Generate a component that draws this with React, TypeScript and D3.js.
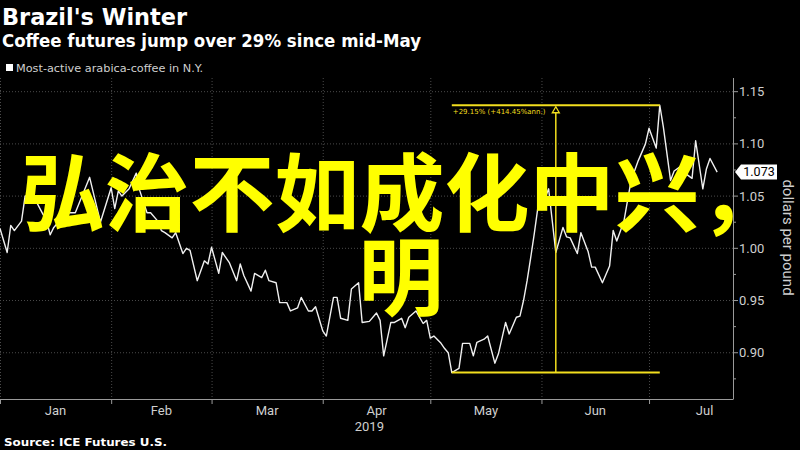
import * as d3 from "d3";

// Most-active arabica coffee, ICE (dollars per pound)
const dates = [
  "01-01", "01-03", "01-04", "01-05", "01-07", "01-08", "01-10", "01-12", "01-14", "01-15",
  "01-16", "01-18", "01-20", "01-22", "01-26", "01-29", "02-01", "02-02", "02-03", "02-04",
  "02-06", "02-08", "02-09", "02-11", "02-12", "02-14", "02-15", "02-16", "02-18", "02-19",
  "02-21", "02-22", "02-23", "02-25", "02-27", "02-28", "03-01", "03-03", "03-04", "03-06",
  "03-08", "03-09", "03-10", "03-12", "03-13", "03-15", "03-16", "03-17", "03-19", "03-20",
  "03-22", "03-23", "03-25", "03-26", "03-28", "03-29", "03-30", "04-01", "04-02", "04-04",
  "04-05", "04-06", "04-08", "04-09", "04-11", "04-12", "04-14", "04-16", "04-17", "04-18",
  "04-20", "04-21", "04-23", "04-24", "04-25", "04-27", "04-29", "04-30", "05-01", "05-02",
  "05-04", "05-05", "05-06", "05-07", "05-09", "05-10", "05-12", "05-13", "05-14", "05-16",
  "05-17", "05-19", "05-20", "05-22", "05-23", "05-25", "05-26", "05-27", "05-28", "05-29",
  "05-30", "05-31", "06-02", "06-03", "06-05", "06-07", "06-08", "06-09", "06-11", "06-12",
  "06-14", "06-15", "06-16", "06-18", "06-20", "06-21", "06-22", "06-24", "06-26", "06-28",
  "06-30", "07-01", "07-03", "07-04", "07-05", "07-07", "07-08", "07-10", "07-11", "07-13",
  "07-14", "07-16", "07-17", "07-18", "07-20",
];
const values = [
  1.019, 0.996, 1.022, 1.017, 1.026, 1.05, 1.052, 1.039, 1.026, 1.013,
  1.02, 1.028, 1.034, 1.034, 1.068, 1.025, 1.058, 1.038, 1.055, 1.05,
  1.057, 1.072, 1.055, 1.034, 1.034, 1.026, 1.017, 1.015, 1.01, 1.015,
  0.995, 1.0, 0.998, 0.969, 0.988, 0.985, 1.001, 0.976, 0.996, 0.986,
  0.969, 0.985, 0.974, 0.959, 0.976, 0.972, 0.979, 0.969, 0.967, 0.948,
  0.948, 0.94, 0.943, 0.953, 0.94, 0.94, 0.944, 0.921, 0.916, 0.953,
  0.953, 0.933, 0.931, 0.961, 0.967, 0.929, 0.93, 0.938, 0.931, 0.897,
  0.929, 0.929, 0.933, 0.924, 0.934, 0.94, 0.928, 0.931, 0.914, 0.916,
  0.909, 0.904, 0.9, 0.881, 0.885, 0.909, 0.909, 0.897, 0.91, 0.913,
  0.916, 0.89, 0.899, 0.929, 0.918, 0.934, 0.935, 0.95, 0.969, 0.991,
  1.014, 1.039, 1.048, 1.057, 0.996, 1.02, 1.011, 1.01, 0.995, 1.015,
  0.997, 0.982, 0.982, 0.967, 0.983, 1.017, 1.007, 1.026, 1.065, 1.084,
  1.1, 1.115, 1.096, 1.137, 1.116, 1.065, 1.074, 1.079, 1.072, 1.067,
  1.103, 1.057, 1.076, 1.086, 1.073,
];

const yTicks = [0.9, 0.95, 1.0, 1.05, 1.1, 1.15];
const yMinor = [0.875, 0.925, 0.975, 1.025, 1.075, 1.125];
const monthLabels = ["Jan", "Feb", "Mar", "Apr", "May", "Jun", "Jul"];
const yearLabel = "2019";
const lastLabel = "1.073";
const changeLabel = "+29.15% (+414.45%ann.)";
const overlayLine1 = "弘治不如成化中兴，";
const overlayLine2 = "明";

const W = 800;
const H = 450;
const plot = { left: 0, right: 733, top: 78, bottom: 399 };
const grid = "#4a4a4a";
const axisCol = "#9a9a9a";
const textCol = "#cfcfcf";
const annot = "#f2de1e";

export default function App() {
  const parse = d3.timeParse("%Y-%m-%d");
  const data = dates.map((d, i) => ({ date: parse("2019-" + d)!, value: values[i] }));

  const x = d3
    .scaleTime()
    .domain([new Date(2019, 0, 1), new Date(2019, 6, 24, 10)])
    .range([plot.left, plot.right]);
  const y = d3.scaleLinear().domain([0.8557, 1.1631]).range([plot.bottom, plot.top]);

  const line = d3
    .line<{ date: Date; value: number }>()
    .x((d) => x(d.date))
    .y((d) => y(d.value));

  const monthStarts = d3.timeMonth.range(new Date(2019, 0, 1), new Date(2019, 7, 1));

  // low / high of the May rally
  const lowIdx = d3.minIndex(data, (d) => d.value);
  const highIdx = lowIdx + d3.maxIndex(data.slice(lowIdx), (d) => d.value);
  const lo = data[lowIdx];
  const hi = data[highIdx];
  const x0 = x(lo.date);
  const x1 = x(hi.date);
  const xm = (x0 + x1) / 2;
  const last = data[data.length - 1];
  const yl = y(last.value);

  return (
    <svg width={W} height={H} style={{ position: "absolute", left: 0, top: 0, background: "#000" }}>
      <style>{`body{margin:0;background:#000}`}</style>
      <rect width={W} height={H} fill="#000" />

      {/* titles */}
      <text x={2} y={25} fill="#fff" fontFamily="DejaVu Sans" fontWeight="bold" fontSize={23}
        textLength={185} lengthAdjust="spacingAndGlyphs">Brazil's Winter</text>
      <text x={2} y={47} fill="#fff" fontFamily="DejaVu Sans" fontWeight="bold" fontSize={17.5}
        textLength={419} lengthAdjust="spacingAndGlyphs">Coffee futures jump over 29% since mid-May</text>
      <rect x={6} y={64} width={7} height={7} fill="#fff" />
      <text x={16} y={72} fill={textCol} fontFamily="DejaVu Sans" fontSize={11}
        textLength={187} lengthAdjust="spacingAndGlyphs">Most-active arabica-coffee in N.Y.</text>

      {/* grid */}
      {yTicks.map((t) => (
        <line key={"h" + t} x1={plot.left} x2={plot.right} y1={y(t)} y2={y(t)}
          stroke={grid} strokeDasharray="1,2" />
      ))}
      {monthStarts.map((m) => (
        <line key={"v" + m.getTime()} x1={x(m) + 0.5} x2={x(m) + 0.5} y1={plot.top} y2={plot.bottom}
          stroke={grid} strokeDasharray="1,2" />
      ))}

      {/* price line */}
      <path d={line(data) ?? ""} fill="none" stroke="#f0f0f0" strokeWidth={1.4} strokeLinejoin="round" />

      {/* rally annotation */}
      <g stroke={annot} strokeWidth={2} fill="none">
        <line x1={x0} x2={x1} y1={y(hi.value)} y2={y(hi.value)} />
        <line x1={x0} x2={x1} y1={y(lo.value)} y2={y(lo.value)} />
        <line x1={xm} x2={xm} y1={y(lo.value)} y2={y(hi.value) + 7} strokeWidth={1.5} />
        <path d={`M${xm},${y(hi.value) + 1.5}L${xm - 3.5},${y(hi.value) + 7.5}L${xm + 3.5},${y(hi.value) + 7.5}Z`}
          fill="#000" strokeWidth={1.3} />
      </g>
      <text x={x0 + 1} y={y(hi.value) + 9} fill={annot} fontFamily="DejaVu Sans" fontSize={7}>
        {changeLabel}
      </text>

      {/* axes */}
      <line x1={plot.right + 0.5} x2={plot.right + 0.5} y1={plot.top} y2={plot.bottom} stroke={axisCol} />
      <line x1={plot.left} x2={plot.right + 0.5} y1={plot.bottom + 0.5} y2={plot.bottom + 0.5} stroke={axisCol} />
      {yTicks.map((t) => (
        <g key={"yt" + t}>
          <line x1={plot.right} x2={plot.right + 5} y1={y(t)} y2={y(t)} stroke={axisCol} />
          <text x={plot.right + 6} y={y(t) + 4.5} fill={textCol} fontFamily="Roboto" fontSize={13}>
            {d3.format(".2f")(t)}
          </text>
        </g>
      ))}
      {yMinor.map((t) => (
        <line key={"ym" + t} x1={plot.right} x2={plot.right + 3} y1={y(t)} y2={y(t)} stroke={axisCol} />
      ))}
      {monthStarts.map((m, i) => {
        const next = d3.timeMonth.offset(m, 1);
        const mid = new Date((m.getTime() + next.getTime()) / 2);
        return (
          <g key={"xm" + i}>
            <line x1={x(m) + 0.5} x2={x(m) + 0.5} y1={plot.bottom} y2={plot.bottom + 5} stroke={axisCol} />
            <text x={x(mid)} y={415} textAnchor="middle" fill={textCol} fontFamily="Roboto" fontSize={13}>
              {monthLabels[i]}
            </text>
          </g>
        );
      })}
      <text x={x(new Date(2019, 3, 14))} y={431} textAnchor="middle" fill={textCol} fontFamily="Roboto" fontSize={13}>
        {yearLabel}
      </text>

      {/* last value tag */}
      <path d={`M${plot.right + 2},${yl}L${plot.right + 8},${yl - 7.5}L${plot.right + 44},${yl - 7.5}L${plot.right + 44},${yl + 7.5}L${plot.right + 8},${yl + 7.5}Z`}
        fill="#fff" />
      <text x={plot.right + 26} y={yl + 4.2} textAnchor="middle" fill="#000" fontFamily="Roboto" fontSize={12.5}>
        {lastLabel}
      </text>
      <text transform={`translate(783,${(plot.top + plot.bottom) / 2 - 1}) rotate(90)`} textAnchor="middle"
        fill={textCol} fontFamily="Roboto" fontSize={15}>dollars per pound</text>

      <text x={4} y={446} fill="#fff" fontFamily="DejaVu Sans" fontWeight="bold" fontSize={11}
        textLength={163} lengthAdjust="spacingAndGlyphs">Source: ICE Futures U.S.</text>

      {/* overlay caption */}
      <g fill="#ffff00" fontFamily="Noto Sans CJK SC" fontWeight="bold" fontSize={85} textAnchor="middle">
        <text x={402} y={225}>{overlayLine1}</text>
        <text x={401} y={309}>{overlayLine2}</text>
      </g>
    </svg>
  );
}
